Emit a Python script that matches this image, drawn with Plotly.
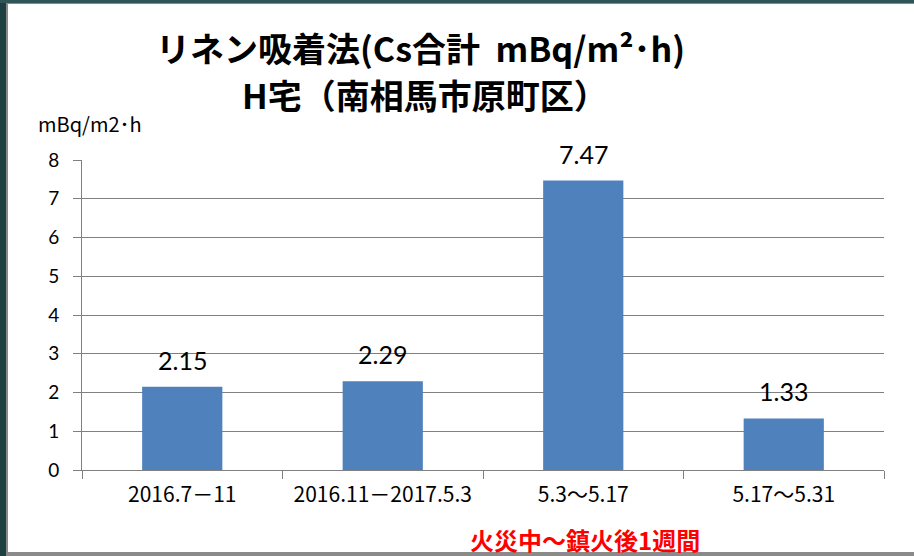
import plotly.graph_objects as go

categories = ["2016.7－11", "2016.11－2017.5.3", "5.3～5.17", "5.17～5.31"]
values = [2.15, 2.29, 7.47, 1.33]
value_labels = ["2.15", "2.29", "7.47", "1.33"]
y_ticks = [0, 1, 2, 3, 4, 5, 6, 7, 8]

title_line1 = "リネン吸着法(Cs合計  mBq/m²･h)"
title_line2 = "H宅（南相馬市原町区）"
y_title = "mBq/m2･h"
note = "火災中～鎮火後1週間"

W, H = 914, 556
L, R, T, B = 82, 30, 160, 86
pw, ph = W - L - R, H - T - B

def px(x):
    return (x - L) / pw

def py(y):
    return (H - B - y) / ph

fig = go.Figure()
fig.add_trace(go.Bar(
    x=categories, y=values,
    marker=dict(color="#4f81bd", line=dict(width=0)),
    width=0.4,
    hoverinfo="skip",
))

annotations = []
for c, v, t in zip(categories, values, value_labels):
    annotations.append(dict(x=c, y=v, xref="x", yref="y", text=t, showarrow=False,
                            yanchor="middle", yshift=27,
                            font=dict(family="Lato, Liberation Sans, sans-serif", size=25, color="#000000")))

annotations += [
    dict(x=px(420), y=py(48), xref="paper", yref="paper", text="<b>" + title_line1 + "</b>",
         showarrow=False, xanchor="center", yanchor="middle",
         font=dict(family="Noto Sans CJK JP", size=34, color="#000000")),
    dict(x=px(425), y=py(95), xref="paper", yref="paper", text="<b>" + title_line2 + "</b>",
         showarrow=False, xanchor="center", yanchor="middle",
         font=dict(family="Noto Sans CJK JP", size=34, color="#000000")),
    dict(x=px(36), y=py(123), xref="paper", yref="paper", text=y_title,
         showarrow=False, xanchor="left", yanchor="middle",
         font=dict(family="Noto Sans CJK JP", size=20, color="#000000")),
    dict(x=px(585), y=py(539), xref="paper", yref="paper", text="<b>" + note + "</b>",
         showarrow=False, xanchor="center", yanchor="middle",
         font=dict(family="Noto Sans CJK JP", size=24, color="#ff0000")),
]

shapes = [
    dict(type="rect", xref="paper", yref="paper", x0=px(0), x1=px(6), y0=py(H), y1=py(0),
         fillcolor="#1e3f40", line=dict(width=0), layer="above"),
    dict(type="rect", xref="paper", yref="paper", x0=px(6), x1=px(8), y0=py(H), y1=py(3),
         fillcolor="#8a8a8a", line=dict(width=0), layer="above"),
    dict(type="rect", xref="paper", yref="paper", x0=px(0), x1=px(W), y0=py(3), y1=py(0),
         fillcolor="#2f5556", line=dict(width=0), layer="above"),
    dict(type="rect", xref="paper", yref="paper", x0=px(6), x1=px(W), y0=py(4), y1=py(3),
         fillcolor="#8a8a8a", line=dict(width=0), layer="above"),
    dict(type="rect", xref="paper", yref="paper", x0=px(6), x1=px(W), y0=py(H), y1=py(552),
         fillcolor="#8a8a8a", line=dict(width=0), layer="above"),
]

fig.update_layout(
    width=W, height=H,
    margin=dict(l=L, r=R, t=T, b=B),
    paper_bgcolor="#ffffff", plot_bgcolor="#ffffff",
    showlegend=False,
    bargap=0.6,
    annotations=annotations,
    shapes=shapes,
    xaxis=dict(
        type="category",
        tickson="boundaries", ticks="outside", ticklen=8, tickcolor="#808080", tickwidth=1,
        showline=True, linecolor="#808080", linewidth=1,
        showgrid=False, zeroline=False,
        tickfont=dict(family="Noto Sans CJK JP", size=21, color="#000000"),
        ticklabelstandoff=6,
    ),
    yaxis=dict(
        range=[0, 8], tickvals=y_ticks, ticktext=[str(t) for t in y_ticks],
        ticks="outside", ticklen=8, tickcolor="#808080", tickwidth=1,
        showline=True, linecolor="#808080", linewidth=1,
        showgrid=True, gridcolor="#808080", gridwidth=1,
        zeroline=False,
        tickfont=dict(family="Lato, Liberation Sans, sans-serif", size=19, color="#000000"),
        ticklabelstandoff=10,
    ),
)

fig.write_html("out.html", config={"displayModeBar": False},
               post_script="document.body.style.margin='0';document.body.style.overflow='hidden';")
